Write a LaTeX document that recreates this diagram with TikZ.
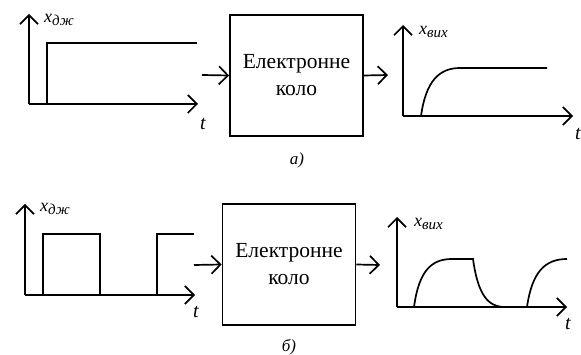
\documentclass[tikz,border=0pt]{standalone}
\usepackage{fontspec}
\setmainfont{Liberation Serif}
\usetikzlibrary{arrows.meta}
\tikzset{
  sig/.style={line width=1.7pt, line join=miter},
  axis/.style={line width=1.7pt, -{Straight Barb[length=9pt,width=18pt,line width=1.7pt]}},
  circuit/.style={draw, line width=1.7pt, minimum width=133pt, minimum height=121pt, align=center, font=\fontsize{21.5}{27}\selectfont},
  lbl/.style={inner sep=0pt, font=\fontsize{18}{18}\selectfont\itshape},
  tlbl/.style={inner sep=0pt, font=\fontsize{20}{20}\selectfont\itshape},
}
\newcommand{\xsig}[1]{x\raisebox{-0.45ex}{\fontsize{15}{15}\selectfont #1}}
\begin{document}
\begin{tikzpicture}[x=1pt,y=-1pt]
  \useasboundingbox (0,0) rectangle (581,355);
  % а) ступінчастий сигнал
  \draw[axis] (29,104) -- (29,14);
  \draw[axis] (29,104) -- (198,104);
  \draw[sig] (47,104) -- (47,43) -- (197,43);
  \node[lbl, anchor=west] (xa) at (44,20) {\xsig{дж}};
  \node[tlbl] (ta) at (203,124) {t};
  % коло а)
  \node[circuit] (boxa) at (296.5,75.5) {Електронне\\коло};
  \coordinate (ina) at (202,75);
  \coordinate (outa) at (388,75);
  \draw[axis] (ina) -- (boxa.west);
  \draw[axis] (boxa.east) -- (outa);
  \node[lbl, font=\fontsize{17}{17}\selectfont\itshape] (capa) at (297,160) {а)};
  % а) вихідний сигнал
  \draw[axis] (403,116) -- (403,25);
  \draw[axis] (403,116) -- (573,116);
  \draw[sig] (421,116) .. controls (426,80) and (440,68) .. (460,68) -- (547,68);
  \node[lbl, anchor=west] (ya) at (419,32) {\xsig{вих}};
  \node[tlbl] (tya) at (578,134) {t};
  % б) імпульсний сигнал
  \draw[axis] (25,295) -- (25,204);
  \draw[axis] (25,295) -- (195,295);
  \draw[sig] (43,295) -- (43,234) -- (100,234) -- (100,295);
  \draw[sig] (157,295) -- (157,234) -- (194,234);
  \node[lbl, anchor=west] (xb) at (40,209) {\xsig{дж}};
  \node[tlbl] (tb) at (196,312) {t};
  % коло б)
  \node[circuit] (boxb) at (289,264.5) {Електронне\\коло};
  \coordinate (inb) at (194,265);
  \coordinate (outb) at (380,265);
  \draw[axis] (inb) -- (boxb.west);
  \draw[axis] (boxb.east) -- (outb);
  \node[lbl, font=\fontsize{17}{17}\selectfont\itshape] (capb) at (289,347) {б)};
  % б) вихідний сигнал
  \draw[axis] (397,307) -- (397,217);
  \draw[axis] (397,307) -- (567,307);
  \draw[sig] (414,307) .. controls (419,270) and (432,259) .. (452,259) -- (473,259)
    .. controls (478,295) and (488,307) .. (505,307) -- (527,307)
    .. controls (532,272) and (545,259) .. (567,259);
  \node[lbl, anchor=west] (yb) at (414,224) {\xsig{вих}};
  \node[tlbl] (tyb) at (568,324) {t};
\end{tikzpicture}
\end{document}
